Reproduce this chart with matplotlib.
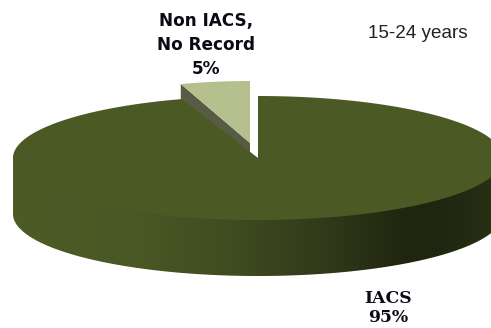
import numpy as np
import matplotlib
matplotlib.use("Agg")
import matplotlib.pyplot as plt
from matplotlib.colors import LinearSegmentedColormap

# data
categories = ["IACS", "Non IACS,\nNo Record"]
values = [95, 5]
annotation = "15-24 years"
slice_colors = ["#4b5a25", "#b5c08e"]

W, H = 491, 328
fig = plt.figure(figsize=(W / 100, H / 100), dpi=100)
ax = fig.add_axes([0, 0, 1, 1])
ax.set_xlim(0, W)
ax.set_ylim(H, 0)
ax.axis("off")

cx, cy, a, b, depth = 258, 158, 245, 62, 56
sx, sy, sa, sb = 250, 143, 224, 62
frac = values[1] / sum(values) * 2 * np.pi


def arc(x0, y0, ra, rb, t0, t1, n=240):
    t = np.linspace(t0, t1, n)
    return x0 + ra * np.sin(t), y0 - rb * np.cos(t)


# main slice outer wall with horizontal shading
ex, ey = arc(cx, cy, a, b, np.pi / 2, 3 * np.pi / 2, 400)
px = np.r_[ex, ex[::-1]]
py = np.r_[ey - 4, ey[::-1] + depth]
wall_cmap = LinearSegmentedColormap.from_list(
    "wall",
    [(0, "#4d5b27"), (0.25, "#4a5825"), (0.45, "#3f4c20"), (0.66, "#2f3719"),
     (0.8, "#20260f"), (0.87, "#1f250f"), (1, "#2b3216")],
)
im = ax.imshow(np.linspace(0, 1, 256)[None, :], extent=[13, 503, H, 0], aspect="auto",
               cmap=wall_cmap, zorder=1)
clip = ax.fill(px, py, color="none", lw=0, zorder=1)[0]
im.set_clip_path(clip)
ax.set_xlim(0, W)
ax.set_ylim(H, 0)

# detached slice: wall, then top face
wx, wy = arc(sx, sy, sa, sb, -frac, 0, 2)
ax.fill([wx[0], sx, sx, wx[0]], [wy[0], sy, sy + depth, wy[0] + depth],
        color="#585c44", lw=0, zorder=2)
qx, qy = arc(sx, sy, sa, sb, -frac, 0)
ax.fill(np.r_[sx, qx], np.r_[sy, qy], color=slice_colors[1], lw=0, zorder=2.5)

# main slice top face
mx, my = arc(cx, cy, a, b, 0, 2 * np.pi - frac, 720)
ax.fill(np.r_[cx, mx], np.r_[cy, my], color=slice_colors[0], lw=0, zorder=3)

# labels
ax.text(206, 45, f"{categories[1]}\n{values[1]}%", ha="center", va="center",
        family="DejaVu Sans", weight="bold", fontsize=12.2, linespacing=1.42,
        color="#0a0a14", zorder=5)
ax.text(388, 308, f"{categories[0]}\n{values[0]}%", ha="center", va="center",
        family="DejaVu Serif", weight="bold", fontsize=12.4, linespacing=1.2,
        color="#0a0a14", zorder=5, clip_on=True)
ax.text(418, 33, annotation, ha="center", va="center", family="Liberation Sans",
        fontsize=13.6, color="#222222", zorder=5)

fig.savefig("out.png", dpi=100, facecolor="white")
